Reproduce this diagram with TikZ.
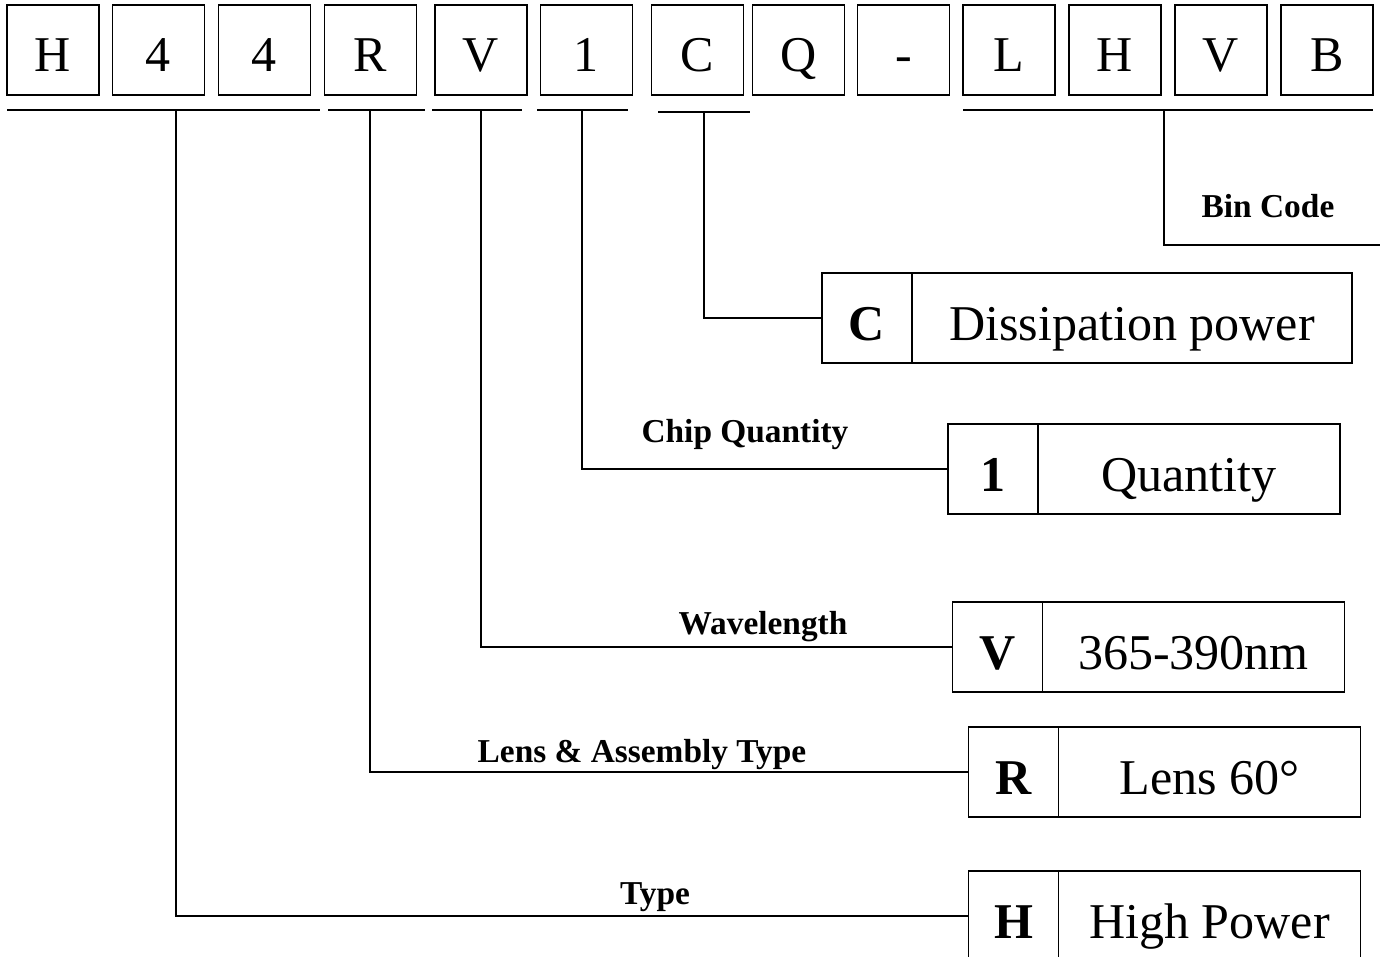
\documentclass[tikz,border=0pt]{standalone}
\usepackage{fontspec}
\setmainfont{Liberation Serif}
\usetikzlibrary{positioning}

\begin{document}
\begin{tikzpicture}[
  x=0.02cm, y=-0.02cm,
  wire/.style={draw=black, line width=0.85pt},
  cell/.style={draw=black, line width=0.85pt, outer sep=0pt, inner sep=0pt,
    minimum width=1.84cm, minimum height=1.8cm, text height=0.88cm, text depth=0pt,
    font=\fontsize{28.5}{31}\selectfont},
  codebox/.style={cell, minimum width=1.8cm, font=\fontsize{28.5}{31}\selectfont\bfseries},
  meaning/.style={cell, minimum width=6.04cm},
  caption/.style={inner sep=0pt, anchor=base, font=\fontsize{19}{21}\selectfont\bfseries}
]
\useasboundingbox (0,0) rectangle (1380,957);

%--------------------------------------------------------------
% Part number, one box per character
%--------------------------------------------------------------
\foreach \x/\c/\n in {53/H/p1, 158.5/4/p2, 264.5/4/p3, 370.5/R/p4, 481/V/p5,
    586.5/1/p6, 697.5/C/p7, 798.5/Q/p8, 903.5/-/p9, 1009/L/p10, 1115/H/p11,
    1221/V/p12, 1327/B/p13}
  \node[cell] (\n) at (\x,50) {\c};

%--------------------------------------------------------------
% Underlines of the groups and their stems
%--------------------------------------------------------------
\draw[wire] (7,110) -- (320,110);
\draw[wire] (328,110) -- (425,110);
\draw[wire] (432,110) -- (522,110);
\draw[wire] (537,110) -- (628,110);
\draw[wire] (658,112) -- (750,112);
\draw[wire] (963,110) -- (1373,110);
\coordinate (uH) at (176,110);
\coordinate (uR) at (370,110);
\coordinate (uV) at (481,110);
\coordinate (u1) at (582,110);
\coordinate (uC) at (704,112);
\coordinate (uB) at (1164,110);
\coordinate (eB) at (1380,245);

%--------------------------------------------------------------
% Bin code
%--------------------------------------------------------------
\draw[wire] (uB) |- (eB);
\node[caption] (tB) at (1268,217) {Bin Code};

%--------------------------------------------------------------
% C: dissipation power
%--------------------------------------------------------------
\node[codebox] (kC) at (867,318) {C};
\node[meaning, minimum width=8.8cm, right=0pt of kC] (mC) {Dissipation power};
\draw[wire] (uC) |- (kC.west);

%--------------------------------------------------------------
% 1: chip quantity
%--------------------------------------------------------------
\node[codebox] (k1) at (993,469) {1};
\node[meaning, right=0pt of k1] (m1) {Quantity};
\draw[wire] (u1) |- (k1.west);
\node[caption] (t1) at (745,442) {Chip Quantity};

%--------------------------------------------------------------
% V: wavelength
%--------------------------------------------------------------
\node[codebox] (kV) at (997.5,647) {V};
\node[meaning, right=0pt of kV] (mV) {365-390nm};
\draw[wire] (uV) |- (kV.west);
\node[caption] (tV) at (763,634) {Wavelength};

%--------------------------------------------------------------
% R: lens and assembly type
%--------------------------------------------------------------
\node[codebox] (kR) at (1013.5,772) {R};
\node[meaning, right=0pt of kR] (mR) {Lens 60°};
\draw[wire] (uR) |- (kR.west);
\node[caption] (tR) at (642,762) {Lens \& Assembly Type};

%--------------------------------------------------------------
% H: type
%--------------------------------------------------------------
\node[codebox] (kH) at (1013.5,916) {H};
\node[meaning, right=0pt of kH] (mH) {High Power};
\draw[wire] (uH) |- (kH.west);
\node[caption] (tH) at (655,904) {Type};

\end{tikzpicture}
\end{document}
